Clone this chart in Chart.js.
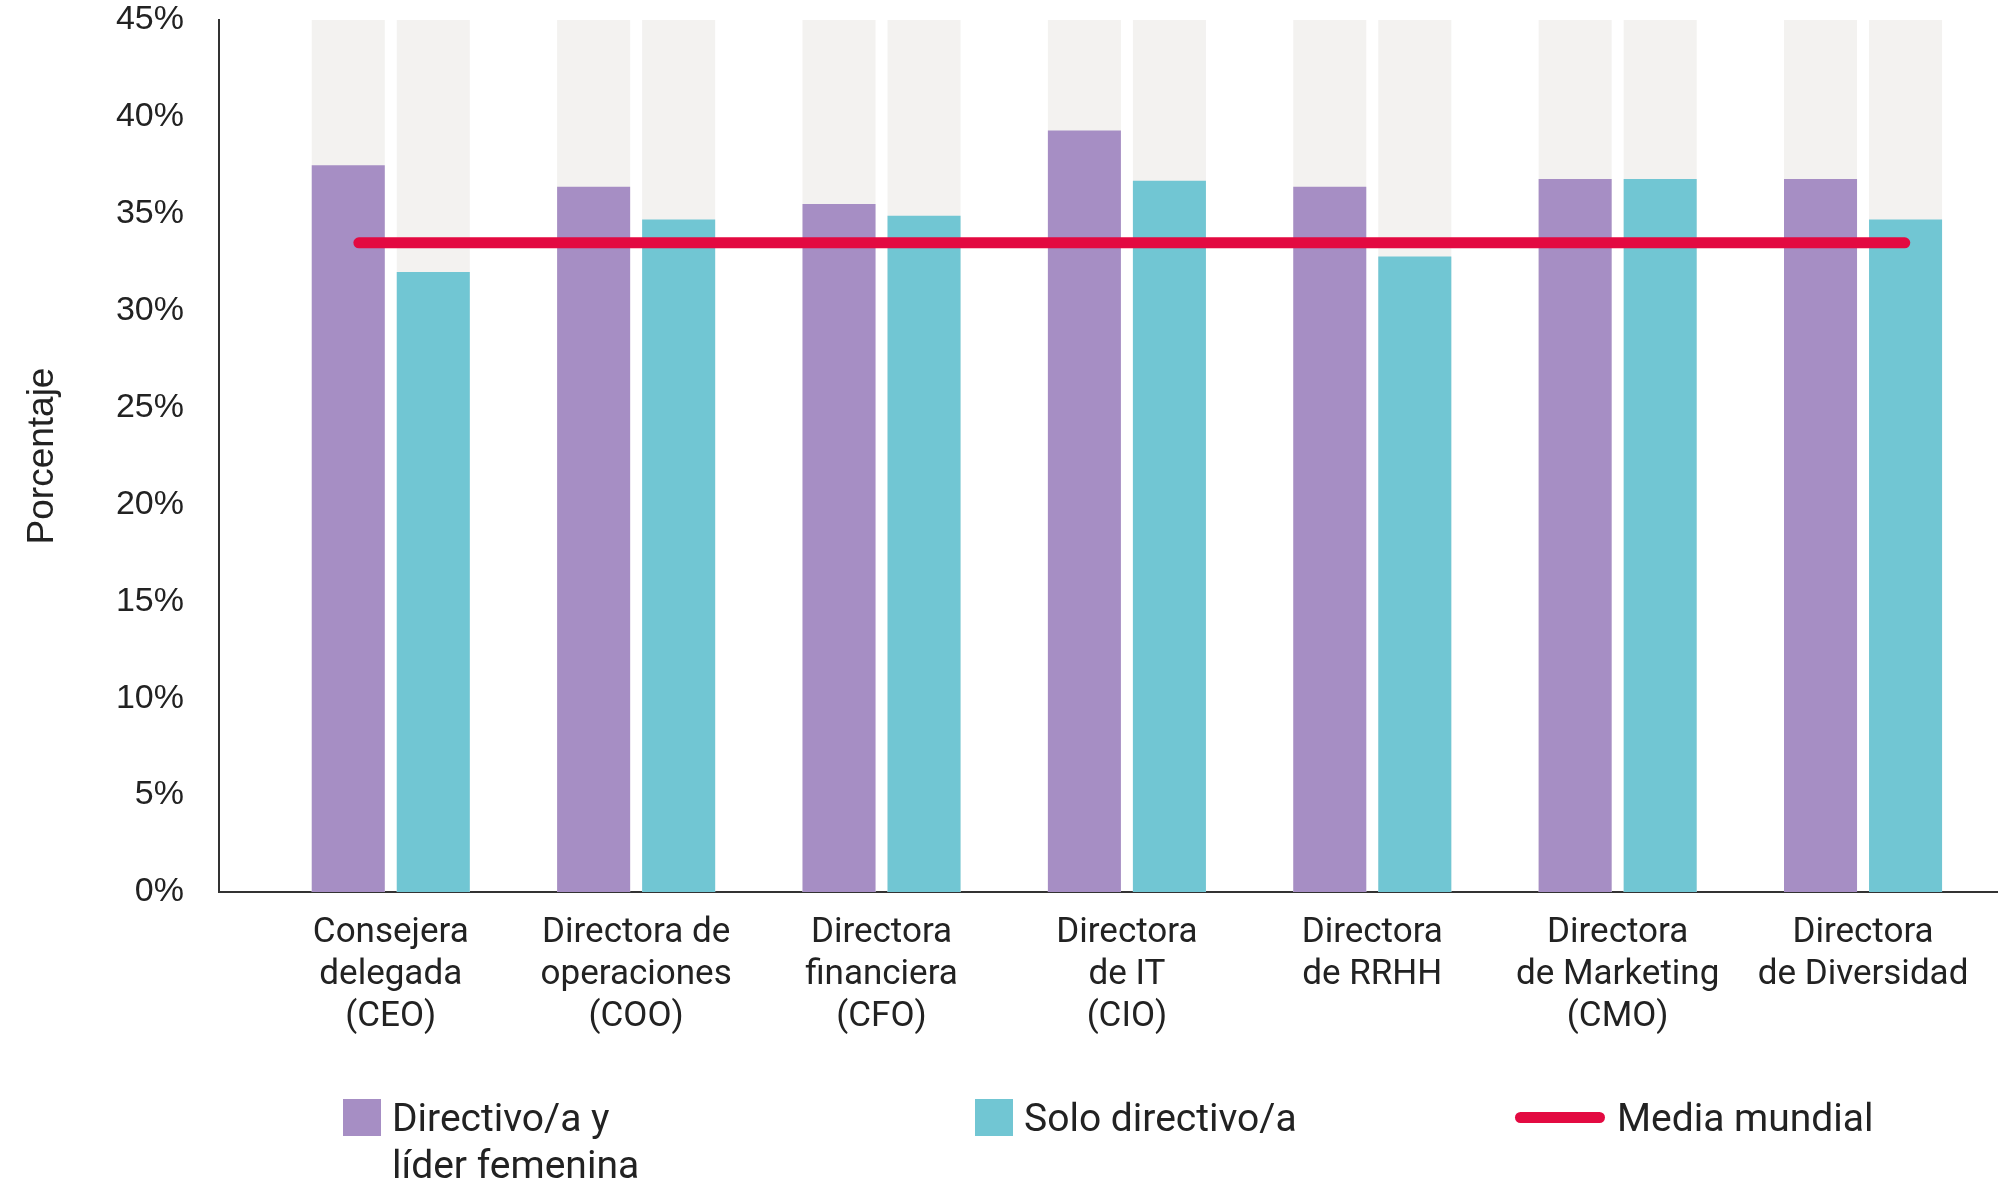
<!DOCTYPE html>
<html lang="es">
<head>
<meta charset="utf-8">
<title>Porcentaje de mujeres en puestos directivos</title>
<script src="https://cdn.jsdelivr.net/npm/chart.js@4.4.1/dist/chart.umd.min.js"></script>
<style>
  body { margin: 0; background: #fff; }
  #wrap { position: relative; width: 1998px; height: 1185px; }
  #legend { position: absolute; left: 0; top: 0; width: 100%; height: 100%; pointer-events: none;
            font-family: Roboto, sans-serif; font-size: 39px; color: #222; }
  .item { position: absolute; top: 1095px; display: flex; align-items: flex-start; }
  .item:nth-child(1) { left: 343px; }
  .item:nth-child(2) { left: 975px; }
  .item:nth-child(3) { left: 1515px; }
  .swatch { width: 38px; height: 37px; margin-top: 4px; margin-right: 11px; flex: none; }
  .swatch.line { width: 90px; height: 11px; border-radius: 6px; margin-top: 17px; margin-right: 12px; }
  .label { line-height: 47px; white-space: nowrap; }
  .item:nth-child(1) .label { white-space: normal; width: 270px; }
</style>
</head>
<body>
<div id="wrap">
  <canvas id="chart"></canvas>
  <div id="legend"></div>
</div>
<script>
// categorias (eje x)
const categorias = [
    ['Consejera', 'delegada', '(CEO)'],
    ['Directora de', 'operaciones', '(COO)'],
    ['Directora', 'financiera', '(CFO)'],
    ['Directora', 'de IT', '(CIO)'],
    ['Directora', 'de RRHH'],
    ['Directora', 'de Marketing', '(CMO)'],
    ['Directora', 'de Diversidad']
];

// valores en %
const directivoLider = [37.5, 36.4, 35.5, 39.3, 36.4, 36.8, 36.8];
const soloDirectivo = [32.0, 34.7, 34.9, 36.7, 32.8, 36.8, 34.7];
const fondo = [45, 45, 45, 45, 45, 45, 45];
const mediaMundial = 33.5;
const mediaDesdeHasta = [-0.13, 6.17];

const ticksY = [0, 5, 10, 15, 20, 25, 30, 35, 40, 45];

const nombres = ['Directivo/a y líder femenina', 'Solo directivo/a', 'Media mundial'];
const colores = ['#A68EC4', '#71C6D3', '#E30A41'];
const colorFondo = '#F3F2F0';

const toPoints = arr => arr.map((v, i) => ({ x: i, y: v }));

// barras grises de fondo (hasta el 45%) detras de cada barra
const fondoPlugin = {
    id: 'fondo',
    beforeDatasetsDraw(chart) {
        const yScale = chart.scales.y;
        const c = chart.ctx;
        c.save();
        c.fillStyle = colorFondo;
        chart.data.datasets.forEach((ds, di) => {
            const meta = chart.getDatasetMeta(di);
            if (meta.type !== 'bar') return;
            meta.data.forEach((bar, i) => {
                const top = yScale.getPixelForValue(fondo[i]);
                c.fillRect(bar.x - bar.width / 2, top, bar.width, bar.base - top);
            });
        });
        c.restore();
    }
};

const ctx = document.getElementById('chart').getContext('2d');
new Chart(ctx, {
    type: 'bar',
    data: {
        datasets: [
            {
                type: 'line',
                label: nombres[2],
                data: mediaDesdeHasta.map(x => ({ x: x, y: mediaMundial })),
                borderColor: colores[2],
                borderWidth: 11,
                borderCapStyle: 'round',
                pointRadius: 0,
                order: 1
            },
            {
                label: nombres[0],
                data: toPoints(directivoLider),
                backgroundColor: colores[0],
                order: 2
            },
            {
                label: nombres[1],
                data: toPoints(soloDirectivo),
                backgroundColor: colores[1],
                order: 2
            }
        ]
    },
    options: {
        responsive: true,
        maintainAspectRatio: false,
        animation: false,
        datasets: {
            bar: { categoryPercentage: 0.693, barPercentage: 0.859 }
        },
        layout: { padding: { top: 20, left: 0, right: 0, bottom: 0 } },
        plugins: {
            legend: { display: false },
            tooltip: { enabled: false }
        },
        scales: {
            // eje x lineal para dejar el hueco a la izquierda como en el original
            x: {
                type: 'linear',
                min: -0.7,
                max: 6.55,
                offset: false,
                grid: { display: false, drawTicks: false, offset: false },
                border: { display: true, color: '#333', width: 2 },
                ticks: {
                    stepSize: 1,
                    includeBounds: false,
                    autoSkip: false,
                    maxRotation: 0,
                    padding: 20,
                    color: '#222',
                    font: { family: 'Roboto', size: 35, lineHeight: 1.2 },
                    callback: v => (Number.isInteger(v) && categorias[v]) ? categorias[v] : ''
                },
                afterFit: s => { s.height = 293; s.paddingLeft = 0; s.paddingRight = 0; }
            },
            y: {
                min: 0,
                max: 45,
                grid: { display: false, drawTicks: false },
                border: { display: true, color: '#333', width: 2 },
                afterBuildTicks: s => { s.ticks = ticksY.map(v => ({ value: v })); },
                ticks: {
                    padding: 35,
                    color: '#222',
                    font: { family: 'Liberation Sans', size: 34 },
                    callback: v => v + '%'
                },
                title: {
                    display: true,
                    text: 'Porcentaje',
                    color: '#222',
                    font: { family: 'Liberation Sans', size: 37 },
                    padding: { top: 21, bottom: 0 }
                },
                afterFit: s => { s.width = 219; s.paddingTop = 0; s.paddingBottom = 0; }
            }
        }
    },
    plugins: [fondoPlugin]
});

// leyenda en HTML para poder partir la primera etiqueta en dos lineas
const legend = document.getElementById('legend');
nombres.forEach((nombre, i) => {
    const item = document.createElement('div');
    item.className = 'item';
    const sw = document.createElement('div');
    sw.className = i === 2 ? 'swatch line' : 'swatch';
    sw.style.background = colores[i];
    const txt = document.createElement('div');
    txt.className = 'label';
    txt.textContent = nombre;
    item.appendChild(sw);
    item.appendChild(txt);
    legend.appendChild(item);
});
</script>
</body>
</html>
